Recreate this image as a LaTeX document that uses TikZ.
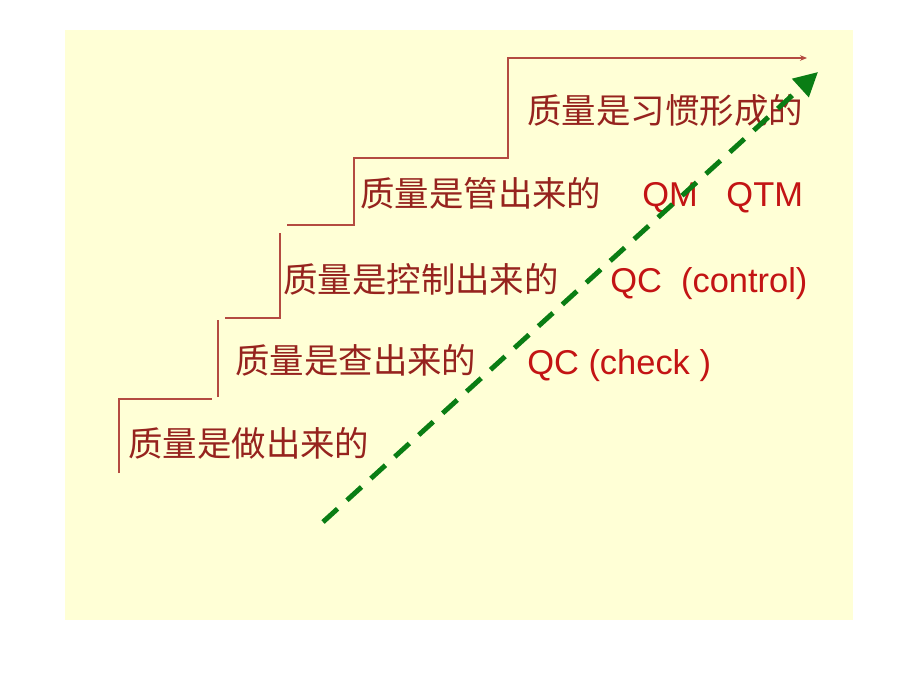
\documentclass[tikz,border=0pt]{standalone}
\usepackage{fontspec}
\setmainfont{Liberation Sans}
\newfontfamily\cjk{Noto Sans CJK SC}
\usetikzlibrary{arrows.meta}

\definecolor{paper}{RGB}{255,255,214}
\definecolor{stairred}{RGB}{180,75,65}
\definecolor{cjkred}{RGB}{150,35,30}
\definecolor{qred}{RGB}{195,20,20}
\definecolor{arrowgreen}{RGB}{10,125,20}

\tikzset{
  stage/.style={anchor=base west,inner sep=0pt,text=cjkred,font=\cjk\fontsize{24.5}{26}\selectfont},
  tag/.style={anchor=base west,inner sep=0pt,text=qred,font=\fontsize{24.5}{26}\selectfont},
  stair/.style={draw=stairred,line width=1pt},
}

\begin{document}
\begin{tikzpicture}[x=0.025cm,y=-0.025cm]

\useasboundingbox (0,0) rectangle (920,690);
\fill[paper] (65,30) rectangle (853,620);

% steps
\draw[stair] (119,473) -- (119,399) -- (212,399);
\draw[stair] (218,397) -- (218,320);
\draw[stair] (225,318) -- (280,318) -- (280,233);
\draw[stair,-{Stealth[length=5pt,width=4pt]}] (287,225) -- (354,225) -- (354,158) -- (508,158) -- (508,58) -- (807,58);

\node[stage](made) at (128,456) {质量是做出来的};

\node[stage](checked) at (235,373) {质量是查出来的};
\node[tag](qc check) at (527,374) {QC (check )};

\node[stage](controlled) at (283,292) {质量是控制出来的};
\node[tag](qc control) at (610,292) {QC\ \ (control)};

\node[stage](managed) at (360,206) {质量是管出来的};
\node[tag](qm qtm) at (642,206) {QM\ \ \ QTM};

\node[stage](habit) at (527,123) {质量是习惯形成的};

\coordinate (rise start) at (323,522);
\coordinate (rise end) at (818,72);
\draw[arrowgreen,line width=3.5pt,dash pattern=on 14pt off 9pt,-{Triangle[length=17pt,width=17pt]}] (rise start) -- (rise end);

\end{tikzpicture}
\end{document}
